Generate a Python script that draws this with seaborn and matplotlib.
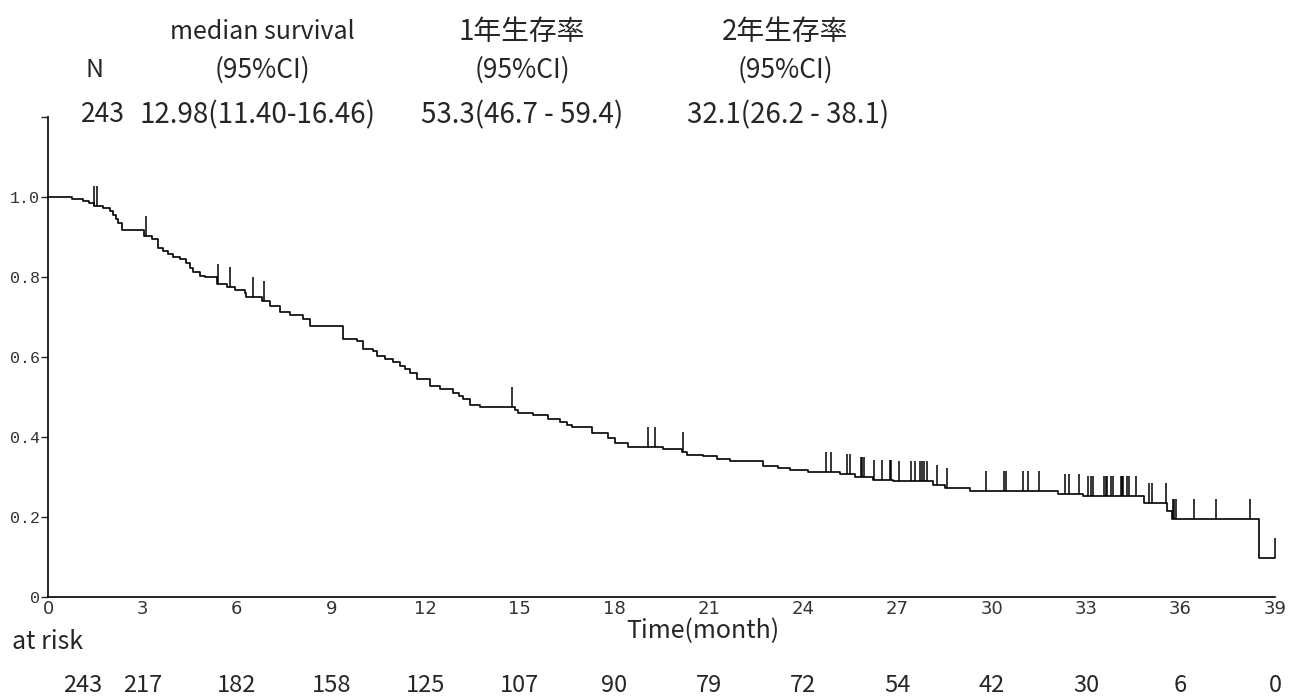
import numpy as np
import pandas as pd
import matplotlib
matplotlib.use("Agg")
import matplotlib.pyplot as plt
import seaborn as sns

# Kaplan-Meier step points (month, survival after the drop)
event_month = [0.75, 1.1, 1.3, 1.45, 1.75, 1.97, 2.07, 2.15, 2.22, 2.35,
               3.05, 3.3, 3.5, 3.65, 3.8, 3.97, 4.2, 4.4, 4.5, 4.6,
               4.83, 5.0, 5.38, 5.7, 5.94, 6.26, 6.3, 6.8, 7.06, 7.37,
               7.7, 8.1, 8.33, 9.38, 9.82, 10.0, 10.33, 10.46, 10.7, 10.97,
               11.2, 11.35, 11.5, 11.73, 12.14, 12.46, 12.87, 13.05, 13.19, 13.41,
               13.73, 14.85, 14.94, 15.42, 15.89, 16.27, 16.5, 16.66, 17.29, 17.8,
               18.02, 18.44, 19.55, 20.15, 20.31, 20.82, 21.26, 21.68, 22.73, 23.2,
               23.59, 24.16, 25.17, 25.65, 26.22, 26.86, 28.13, 28.5, 29.3, 32.1,
               32.9, 34.84, 35.56, 35.73, 38.49]
event_surv = [0.995, 0.99, 0.986, 0.978, 0.972, 0.966, 0.955, 0.945, 0.935, 0.917,
              0.903, 0.895, 0.872, 0.865, 0.858, 0.851, 0.845, 0.835, 0.822, 0.812,
              0.803, 0.80, 0.782, 0.776, 0.768, 0.76, 0.75, 0.739, 0.728, 0.713,
              0.706, 0.695, 0.678, 0.646, 0.639, 0.619, 0.615, 0.602, 0.595, 0.587,
              0.578, 0.571, 0.561, 0.544, 0.527, 0.519, 0.51, 0.502, 0.494, 0.481,
              0.475, 0.468, 0.46, 0.455, 0.445, 0.437, 0.43, 0.425, 0.409, 0.398,
              0.385, 0.375, 0.37, 0.362, 0.356, 0.352, 0.345, 0.339, 0.328, 0.323,
              0.317, 0.312, 0.308, 0.30, 0.293, 0.289, 0.281, 0.272, 0.266, 0.258,
              0.252, 0.235, 0.216, 0.195, 0.098]
end_month = 39.0

censor_month = [1.46, 1.55, 3.12, 5.4, 5.8, 6.5, 6.85, 14.75, 19.07, 19.3,
                20.18, 24.73, 24.89, 25.4, 25.5, 25.84, 25.88, 25.94, 26.25, 26.5,
                26.75, 26.8, 27.05, 27.43, 27.56, 27.72, 27.78, 27.84, 27.94, 28.26,
                28.56, 29.81, 30.4, 30.45, 31.0, 31.15, 31.5, 32.33, 32.45, 32.77,
                33.06, 33.15, 33.22, 33.57, 33.62, 33.66, 33.8, 33.85, 34.1, 34.14,
                34.17, 34.3, 34.36, 34.58, 35.0, 35.1, 35.54, 35.76, 35.8, 35.85,
                36.43, 37.13, 38.2, 39.0]

risk_month = [0, 3, 6, 9, 12, 15, 18, 21, 24, 27, 30, 33, 36, 39]
at_risk = [243, 217, 182, 158, 125, 107, 90, 79, 72, 54, 42, 30, 6, 0]

header = ["median survival", "1年生存率", "2年生存率"]
summary = ["12.98(11.40-16.46)", "53.3(46.7 - 59.4)", "32.1(26.2 - 38.1)"]
n_total = 243

sns.set_theme(style="ticks")
jp = ["Noto Sans CJK JP", "DejaVu Sans"]
plt.rcParams["font.family"] = jp

km = pd.DataFrame({"month": [0.0] + event_month + [end_month],
                   "surv": [1.0] + event_surv + [event_surv[-1]]})

fig = plt.figure(figsize=(12.89, 6.98), dpi=100)
ax = fig.add_axes([48 / 1289, 101 / 698, 1227 / 1289, 480 / 698])

sns.lineplot(data=km, x="month", y="surv", drawstyle="steps-post", estimator=None,
             color="black", linewidth=1.2, ax=ax, clip_on=False)

# censor marks sit on the curve and point upward
steps_t = np.array(km["month"])
steps_s = np.array(km["surv"])
idx = np.searchsorted(steps_t, censor_month, side="right") - 1
cs = steps_s[idx]
ax.vlines(censor_month, cs, cs + 0.05, color="black", linewidth=1.1, clip_on=False)

ax.set_xlim(0, 39)
ax.set_ylim(0, 1.2)
ax.set_xticks(risk_month)
ax.set_xticklabels([str(m) for m in risk_month], fontsize=13, color="#333333",
                   family=["Liberation Sans Narrow", "DejaVu Sans"])
ax.set_yticks([0, 0.2, 0.4, 0.6, 0.8, 1.0, 1.2])
ax.set_yticklabels(["0", "0.2", "0.4", "0.6", "0.8", "1.0", ""], fontsize=12,
                   color="#333333", family=["Liberation Mono", "DejaVu Sans Mono"])
ax.tick_params(axis="x", length=0, pad=2)
ax.tick_params(axis="y", length=5, width=1, pad=1)
ax.set_xlabel("")
ax.set_ylabel("")
for side in ["top", "right"]:
    ax.spines[side].set_visible(False)
for side in ["left", "bottom"]:
    ax.spines[side].set_linewidth(1.2)
    ax.spines[side].set_color("black")

ax.text(0.534, -0.07, "Time(month)", transform=ax.transAxes, ha="center",
        va="center", fontsize=18)

# summary table above the plot
col_x = [262, 522, 785]
for x, h in zip(col_x, header):
    size = 18 if h.isascii() else 20
    fig.text(x / 1289, 1 - 32 / 698, h, ha="center", va="center", fontsize=size)
    fig.text(x / 1289, 1 - 70 / 698, "(95%CI)", ha="center", va="center", fontsize=19)
fig.text(95 / 1289, 1 - 70 / 698, "N", ha="center", va="center", fontsize=18)
fig.text(103 / 1289, 1 - 115 / 698, str(n_total), ha="center", va="center", fontsize=19)
for x, s in zip([258, 522, 788], summary):
    fig.text(x / 1289, 1 - 115 / 698, s, ha="center", va="center", fontsize=20)

# number at risk row
fig.text(12 / 1289, 1 - 642 / 698, "at risk", ha="left", va="center", fontsize=18)
nudge = {0: 1.1}
row_y = -(685 - 597) / 480
for i, (m, n) in enumerate(zip(risk_month, at_risk)):
    ax.text(m + nudge.get(i, 0), row_y, str(n), transform=ax.get_xaxis_transform(),
            ha="center", va="center", fontsize=17)

fig.savefig("out.png", dpi=100)
